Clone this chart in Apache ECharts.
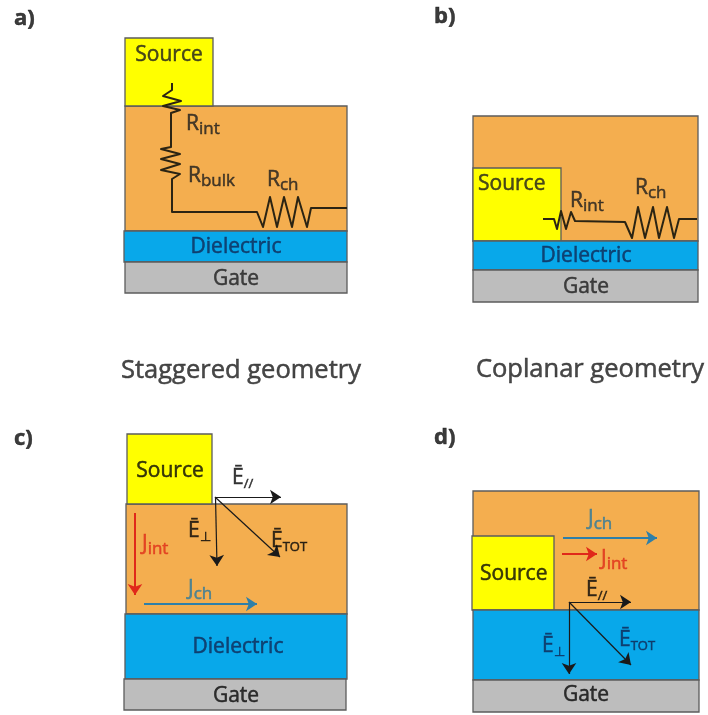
<!DOCTYPE html>
<html><head><meta charset="utf-8">
<style>html,body{margin:0;padding:0;background:#fff}#c{width:708px;height:715px}</style>
<script src="https://cdn.jsdelivr.net/npm/echarts@6/dist/echarts.min.js"></script>
</head><body><div id="c"></div>
<script>
// Layers: [x0, y0, x1, y1, material]
const layersA = [[125,106,347,231,'semi'],[125,38,213,106,'source'],[124,231,347,262,'dielectric'],[125,262,347,293,'gate']];
const layersB = [[473,116,698,241,'semi'],[473,168,561,241,'source'],[473,241,698,270,'dielectric'],[473,270,698,302,'gate']];
const layersC = [[126,504,347,614,'semi'],[127,434,212,504,'source'],[125,614,347,679,'dielectric'],[124,679,346,710,'gate']];
const layersD = [[473,491,699,610,'semi'],[472,536,554,610,'source'],[473,610,699,680,'dielectric'],[473,680,699,712,'gate']];
const materialColors = {semi:'#f4ae4f',source:'#ffff00',dielectric:'#08a8ea',gate:'#bdbdbd'};

const resistorA = [[172,83],[172,90],[163,96],[181,101],[163,106],[180,110],[171,113],[171,147],[161,149],[180,154],[161,159],[180,164],[161,170],[180,174],[172,179],[172,212],[257,212],[263,227],[270,197],[277,227],[284,197],[292,227],[298,197],[307,227],[311,208],[347,208]];
const resistorB = [[543,219],[554,219],[557,229],[561,211],[566,229],[571,212],[575,221],[625,222],[632,238],[638,207],[645,238],[653,207],[659,238],[667,207],[674,238],[679,219],[697,219]];

const blackArrows = [[[215,497],[281,497]],[[215.5,497],[217,566]],[[215,497],[280,557]],[[569,602],[631,602]],[[569,602],[569,674]],[[569,602],[631,665]]];
const redArrows = [[[135,513],[135,595]],[[562,554],[597,554]]];
const blueArrows = [[[144,604],[257,604]],[[563,538],[657,538]]];

// Labels: [x, y, align, text, sub, style]
const labels = [
 [14,17,'left','a)','','tag'],[434,15,'left','b)','','tag'],[14,437,'left','c)','','tag'],[434,436,'left','d)','','tag'],
 [169,53,'center','Source','','dark'],[186,122,'left','R','int','dark'],[188,174,'left','R','bulk','dark'],[267,178,'left','R','ch','dark'],
 [236,245,'center','Dielectric','','navy'],[236,277,'center','Gate','','dark'],
 [241,371,'center','Staggered geometry','','title'],[590,370,'center','Coplanar geometry','','title'],
 [478,182,'left','Source','','dark'],[570,199,'left','R','int','dark'],[635,186,'left','R','ch','dark'],
 [586,254,'center','Dielectric','','navy'],[586,285,'center','Gate','','dark'],
 [170,469,'center','Source','','black'],[232,476,'left','Ē','//','black'],[188,529,'left','Ē','⊥','black'],[271,539,'left','Ē','TOT','black'],
 [142,542,'left','J','int','red'],[188,587,'left','J','ch','teal'],[238,645,'center','Dielectric','','navy'],[236,694,'center','Gate','','black'],
 [480,572,'left','Source','','black'],[588,517,'left','J','ch','teal'],[601,557,'left','J','int','red'],[586,588,'left','Ē','//','black'],
 [542,644,'left','Ē','⊥','navy'],[619,638,'left','Ē','TOT','navy'],[586,693,'center','Gate','','black']
];
const textColors = {dark:'#1e1e1e',black:'#0a0a0a',navy:'#102a58',red:'#e0301a',teal:'#2f7a9c',tag:'#0a0a0a',title:'#1a1a1a'};
const FONT = '"Open Sans"';

const rich = {};
Object.keys(textColors).forEach(k=>{
  const big = k==='title'?25.5:(k==='tag'?22:21);
  const ink = {color:textColors[k],textBorderColor:textColors[k],textBorderWidth:0.5};
  rich[k] = {fontFamily:FONT,fontSize:big,fontWeight:k==='tag'?'bold':'normal',lineHeight:26,verticalAlign:'bottom',...ink};
  rich[k+'Sub'] = {fontFamily:FONT,fontSize:17,lineHeight:20,verticalAlign:'bottom',padding:[0,0,-3,0],...ink};
  rich[k+'Tiny'] = {fontFamily:FONT,fontSize:13,lineHeight:20,verticalAlign:'bottom',padding:[0,0,-2,0],...ink};
});

const allLayers = [...layersA,...layersB,...layersC,...layersD];
const rectSeries = {
  type:'custom', coordinateSystem:'cartesian2d', silent:true, animation:false, z:1, clip:false,
  data:allLayers.map(l=>l.slice(0,4)),
  encode:{x:[0,2],y:[1,3]},
  renderItem(params,api){
    const a = api.coord([api.value(0),api.value(1)]), b = api.coord([api.value(2),api.value(3)]);
    return {type:'rect',shape:{x:a[0],y:a[1],width:b[0]-a[0],height:b[1]-a[1]},
      style:{fill:materialColors[allLayers[params.dataIndex][4]],stroke:'#5c5c5c',lineWidth:1.3}};
  }
};
const resistor = d => ({type:'line',data:d,showSymbol:false,symbol:'none',smooth:false,animation:false,silent:true,z:3,clip:false,
  lineStyle:{color:'#2b2413',width:2,join:'round'}});
const arrows = (d,color,width) => ({type:'lines',coordinateSystem:'cartesian2d',polyline:false,silent:true,animation:false,z:4,
  symbol:['none','arrow'],symbolSize:[1,11],
  lineStyle:{color,width,opacity:1,curveness:0},data:d.map(c=>({coords:c}))});
const subStyle = (l) => l[5]+(l[4]==='TOT'||l[4]==='//'||l[4]==='⊥'?'Tiny':'Sub');
const labelSeries = {
  type:'scatter',symbolSize:0,silent:true,animation:false,z:5,clip:false,
  data:labels.map(l=>({value:[l[0],l[1]],
    label:{show:true,position:'inside',distance:0,align:l[2],verticalAlign:'middle',
      formatter:'{'+l[5]+'|'+l[3]+'}'+(l[4]?'{'+subStyle(l)+'|'+l[4]+'}':''),rich}}))
};

const chart = echarts.init(document.getElementById('c'),null,{renderer:'canvas'});
chart.setOption({
  backgroundColor:'#ffffff',animation:false,
  grid:{left:0,right:0,top:0,bottom:0},
  xAxis:{type:'value',min:0,max:708,show:false},
  yAxis:{type:'value',min:0,max:715,inverse:true,show:false},
  series:[rectSeries,resistor(resistorA),resistor(resistorB),
    arrows(blackArrows,'#1a1a1a',1.2),arrows(redArrows,'#e0281a',2),arrows(blueArrows,'#2f7fa8',2),labelSeries]
});
</script></body></html>
